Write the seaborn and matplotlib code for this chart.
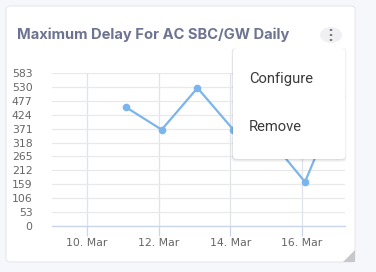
import matplotlib
matplotlib.use("Agg")
import matplotlib.pyplot as plt
from matplotlib.patches import FancyBboxPatch, Circle, Polygon
import seaborn as sns
import pandas as pd

# ---- data ----
dates = ["2024-03-11 02:00", "2024-03-12 02:00", "2024-03-13 02:00", "2024-03-14 02:00",
         "2024-03-15 02:00", "2024-03-16 02:00", "2024-03-17 02:00"]
max_delay = [453, 367, 526, 367, 334, 168, 494]
y_ticks = [0, 53, 106, 159, 212, 265, 318, 371, 424, 477, 530, 583]
x_ticks = ["2024-03-10", "2024-03-12", "2024-03-14", "2024-03-16"]
title = "Maximum Delay For AC SBC/GW Daily"
menu_items = ["Configure", "Remove"]

df = pd.DataFrame({"date": pd.to_datetime(dates), "delay": max_delay})

sns.set_theme(style="white")
plt.rcParams["font.family"] = ["DejaVu Sans"]

W, H = 376, 272
fig = plt.figure(figsize=(W / 100, H / 100), dpi=100)
fig.patch.set_facecolor("#f6f7fb")

def fx(px):
    return px / W

def fy(py):
    return 1 - py / H

# card
card = FancyBboxPatch((fx(6), fy(262)), fx(355) - fx(6), fy(6) - fy(262),
                      boxstyle="round,pad=0,rounding_size=0.012",
                      transform=fig.transFigure, facecolor="white",
                      edgecolor="#e6e8ee", linewidth=0.8, zorder=-3)
fig.patches.append(card)
# resize corner
tri = Polygon([[fx(355), fy(250)], [fx(355), fy(262)], [fx(343), fy(262)]],
              closed=True, transform=fig.transFigure, facecolor="#c8c8cc",
              edgecolor="none", zorder=-2)
fig.patches.append(tri)

ax = fig.add_axes([fx(52), fy(226), fx(345) - fx(52), (226 - 73) / H])
ax.set_zorder(2)
ax.set_facecolor("none")
sns.lineplot(data=df, x="date", y="delay", ax=ax, color="#7cb5ec", linewidth=1.6,
             marker="o", markersize=5.5, markeredgewidth=0, clip_on=True)

ax.set_ylim(0, 583)
ax.set_xlim(pd.Timestamp("2024-03-09 00:33"), pd.Timestamp("2024-03-17 04:48"))
ax.set_yticks(y_ticks)
ax.set_yticklabels([str(v) for v in y_ticks])
xt = pd.to_datetime(x_ticks)
ax.set_xticks(xt)
ax.set_xticklabels([d.strftime("%-d. %b") for d in xt])
ax.set_xlabel("")
ax.set_ylabel("")

ax.grid(True, axis="y", color="#e9e9e9", linewidth=0.9)
ax.grid(True, axis="x", color="#dfe3ec", linewidth=0.9)
ax.set_axisbelow(True)
for s in ["top", "right", "left"]:
    ax.spines[s].set_visible(False)
ax.spines["bottom"].set_color("#ccd6eb")
ax.spines["bottom"].set_linewidth(1)
ax.tick_params(axis="y", length=0, pad=14, labelsize=7.8, labelcolor="#666666")
ax.tick_params(axis="x", length=7, width=0.9, color="#ccd6eb", pad=1.5,
               labelsize=7.8, labelcolor="#666666", direction="out", bottom=True)

# title
fig.text(fx(17), fy(35), title, fontsize=10.6, fontweight="bold", color="#6e7391",
         family=["Inter", "DejaVu Sans"], va="center", ha="left")

# kebab button
fig.patches.append(Circle((fx(331), fy(35)), 11 / W, transform=fig.transFigure,
                          facecolor="#f0f0f3", edgecolor="none", zorder=2))
for dy in (-5, 0, 5):
    fig.patches.append(Circle((fx(331), fy(35 + dy)), 1.4 / W, transform=fig.transFigure,
                              facecolor="#6f7182", edgecolor="none", zorder=3))

# dropdown menu with shadow
for i, a in enumerate([0.05, 0.04, 0.04]):
    off = 1 + i
    sh = FancyBboxPatch((fx(233 - off * 0.5), fy(159 + off)), fx(345 + off * 0.5) - fx(233 - off * 0.5),
                        fy(48) - fy(159 + off),
                        boxstyle="round,pad=0,rounding_size=0.012", transform=fig.transFigure,
                        facecolor="black", alpha=a, edgecolor="none", zorder=8)
    fig.patches.append(sh)
menu = FancyBboxPatch((fx(233), fy(159)), fx(345.5) - fx(233), fy(48) - fy(159),
                      boxstyle="round,pad=0,rounding_size=0.012", transform=fig.transFigure,
                      facecolor="white", edgecolor="none", zorder=9)
fig.patches.append(menu)
for item, py in zip(menu_items, [79, 127]):
    fig.text(fx(249), fy(py), item, fontsize=10.6, color="#3a3a3a",
             family=["Roboto", "DejaVu Sans"], va="center", ha="left", zorder=10)

fig.savefig("out.png", dpi=100, facecolor=fig.get_facecolor())
